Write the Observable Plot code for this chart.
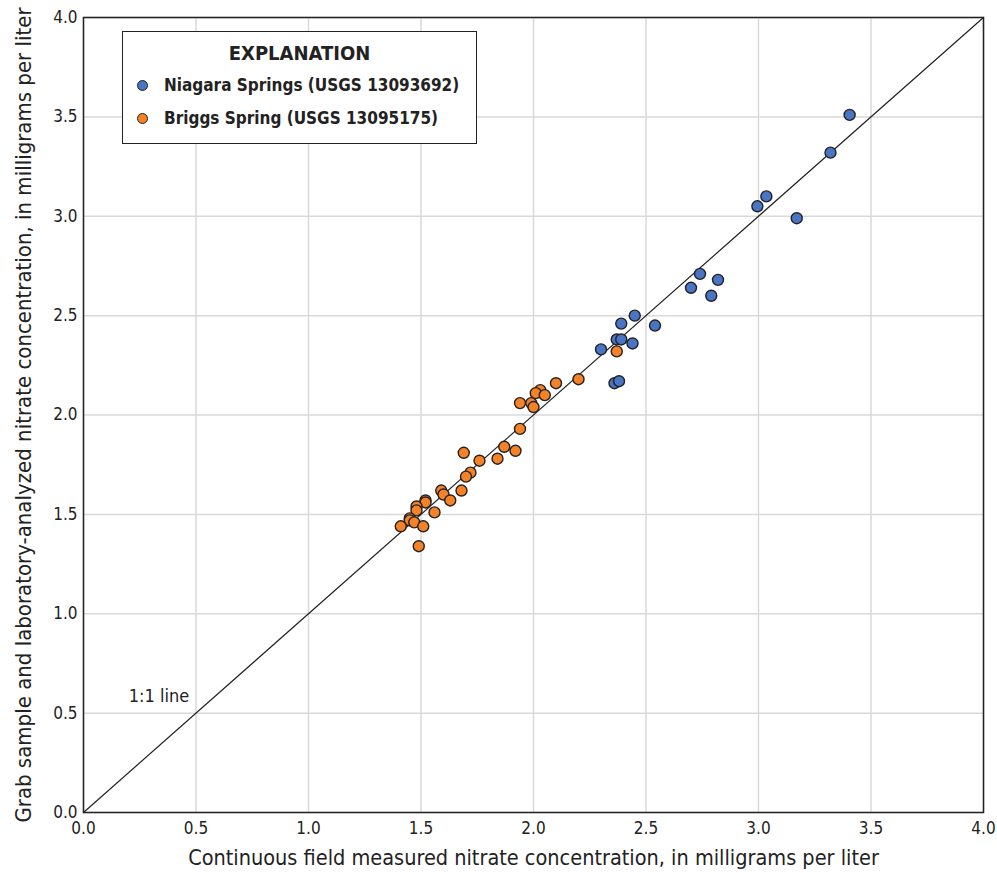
<!DOCTYPE html>
<html>
<head>
<meta charset="utf-8">
<script src="https://cdn.jsdelivr.net/npm/d3@7"></script>
<script src="https://cdn.jsdelivr.net/npm/@observablehq/plot@0.6"></script>
<style>
  html, body { margin: 0; padding: 0; background: #fff; }
  #wrap { position: relative; width: 997px; height: 873px; font-family: "Liberation Sans Narrow", "DejaVu Sans Condensed", "Roboto", sans-serif; }
  #legend { position: absolute; left: 122px; top: 31px; width: 353px; height: 111px; border: 1.5px solid #222; background: #fff; box-sizing: content-box; }
  #legend .title { position: absolute; left: 0; right: 0; top: 9px; text-align: center; font-weight: bold; font-size: 20px; color: #222; }
  #legend .item { position: absolute; left: 14px; font-weight: bold; font-size: 17px; color: #222; display: flex; align-items: center; white-space: nowrap; }
  #legend .dot { width: 9px; height: 9px; border-radius: 50%; border: 1.2px solid #222; margin-right: 16px; }
</style>
</head>
<body>
<div id="wrap"></div>
<script>
const seriesNames = ["Niagara Springs (USGS 13093692)", "Briggs Spring (USGS 13095175)"];
const seriesColors = ["#4a74c4", "#f58226"];

const niagaraX = [2.74, 2.82, 2.70, 2.79, 2.45, 2.39, 2.54, 2.37, 2.39, 2.44, 2.30, 2.36, 2.38, 3.405, 3.32, 3.035, 2.995, 3.17];
const niagaraY = [2.71, 2.68, 2.64, 2.60, 2.50, 2.46, 2.45, 2.38, 2.38, 2.36, 2.33, 2.16, 2.17, 3.51, 3.32, 3.10, 3.05, 2.99];

const briggsX = [2.20, 2.10, 2.03, 2.01, 2.05, 1.94, 1.99, 2.00, 1.94, 1.69, 1.87, 1.92, 1.84, 1.76, 1.72, 1.70, 1.68, 1.59, 1.60, 1.63, 1.52, 1.52, 1.48, 1.48, 1.56, 1.45, 1.45, 1.47, 1.41, 1.51, 1.49, 2.37];
const briggsY = [2.18, 2.16, 2.125, 2.11, 2.10, 2.06, 2.06, 2.04, 1.93, 1.81, 1.84, 1.82, 1.78, 1.77, 1.71, 1.69, 1.62, 1.62, 1.60, 1.57, 1.57, 1.56, 1.54, 1.52, 1.51, 1.48, 1.47, 1.46, 1.44, 1.44, 1.34, 2.32];

const tickValues = [0, 0.5, 1.0, 1.5, 2.0, 2.5, 3.0, 3.5, 4.0];
const oneToOne = [0, 4];
const oneToOneLabel = { x: 0.47, y: 0.585, text: "1:1 line" };

const xTitle = "Continuous field measured nitrate concentration, in milligrams per liter";
const yTitle = "Grab sample and laboratory-analyzed nitrate concentration, in milligrams per liter";

const niagara = niagaraX.map((x, i) => ({ x, y: niagaraY[i], s: seriesNames[0] }));
const briggs = briggsX.map((x, i) => ({ x, y: briggsY[i], s: seriesNames[1] }));
const lineData = oneToOne.map(v => ({ x: v, y: v }));

const fmt = d3.format(".1f");

const chart = Plot.plot({
  width: 997,
  height: 873,
  marginLeft: 83,
  marginRight: 14,
  marginTop: 17,
  marginBottom: 61,
  style: { fontFamily: '"Liberation Sans Narrow", "DejaVu Sans Condensed", "Roboto", sans-serif', fontSize: "17px", color: "#222", background: "#fff", overflow: "visible" },
  x: { domain: [0, 4], ticks: tickValues, tickFormat: fmt, label: xTitle, labelArrow: "none", labelAnchor: "center", labelOffset: 52, tickSize: 0, tickPadding: 9 },
  y: { domain: [0, 4], ticks: tickValues, tickFormat: fmt, label: yTitle, labelArrow: "none", labelAnchor: "center", labelOffset: 68, tickSize: 0, tickPadding: 6 },
  color: { domain: seriesNames, range: seriesColors },
  marks: [
    Plot.gridX(tickValues, { stroke: "#d9d9d9", strokeOpacity: 1, strokeWidth: 1.5 }),
    Plot.gridY(tickValues, { stroke: "#d9d9d9", strokeOpacity: 1, strokeWidth: 1.5 }),
    Plot.line(lineData, { x: "x", y: "y", stroke: "#222", strokeWidth: 1.2 }),
    Plot.text([oneToOneLabel], { x: "x", y: "y", text: "text", textAnchor: "end", fontSize: 18, fill: "#222" }),
    Plot.frame({ stroke: "#222", strokeWidth: 1.5 }),
    Plot.dot(niagara, { x: "x", y: "y", fill: "s", r: 5.5, stroke: "#222", strokeWidth: 1.4 }),
    Plot.dot(briggs, { x: "x", y: "y", fill: "s", r: 5.5, stroke: "#222", strokeWidth: 1.4 })
  ]
});

// enlarge axis title fonts and strip any arrow glyphs
d3.select(chart).selectAll('g[aria-label="x-axis label"] text')
  .style("font-size", "21.5px");
d3.select(chart).selectAll('g[aria-label="y-axis label"] text')
  .style("font-size", "22px");
d3.select(chart).selectAll('g[aria-label="x-axis label"] text, g[aria-label="y-axis label"] text')
  .each(function () { this.textContent = this.textContent.replace(/\s*[→↑←↓]\s*/g, ""); });

const wrap = document.getElementById("wrap");
wrap.appendChild(chart);

const legend = document.createElement("div");
legend.id = "legend";
legend.innerHTML = `<div class="title">EXPLANATION</div>` +
  seriesNames.map((n, i) => `<div class="item" style="top:${43 + i * 33}px"><span class="dot" style="background:${seriesColors[i]}"></span>${n}</div>`).join("");
wrap.appendChild(legend);
</script>
</body>
</html>
